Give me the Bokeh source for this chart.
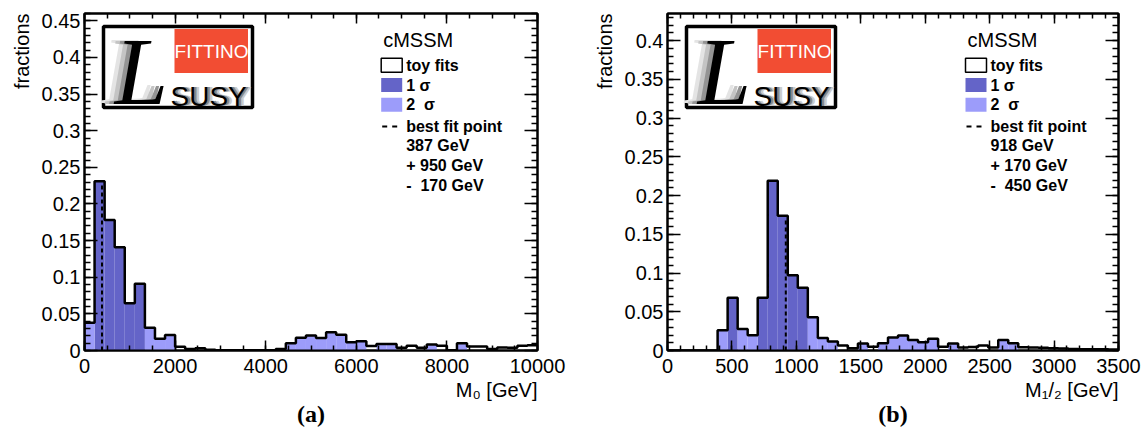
import numpy as np
from bokeh.plotting import figure
from bokeh.layouts import row
from bokeh.models import Range1d, LinearAxis, FixedTicker, Title, CustomJSTickFormatter
from bokeh.core.properties import value
from bokeh.embed import file_html
from bokeh.resources import INLINE

# ---------------- data ----------------
N_BINS = 45
M0_MAX = 10000
M12_MAX = 3500

# fraction of toy fits per bin (45 equal bins)
m0_fractions = [0.038, 0.231, 0.178, 0.141, 0.0645, 0.091, 0.031, 0.016, 0.021,
                0.005, 0.002, 0.003, 0.001, 0.0005, 0.0005, 0.0005, 0.0005, 0.0005,
                0.0005, 0.002, 0.010, 0.0173, 0.0205, 0.017, 0.025, 0.0214, 0.0114,
                0.0127, 0.006, 0.009, 0.0088, 0.0036, 0.0064, 0.0036, 0.0082, 0.0064,
                0.0005, 0.010, 0.0055, 0.0055, 0.002, 0.004, 0.0036, 0.0064, 0.0073]
# 0 = outside, 1 = 1 sigma region, 2 = 2 sigma region
m0_bands = [2, 1, 1, 1, 1, 1, 2, 2, 2,
            0, 0, 0, 0, 0, 0, 0, 0, 0,
            0, 0, 2, 2, 2, 2, 2, 2, 2,
            2, 0, 2, 2, 0, 0, 0, 2, 0,
            0, 2, 0, 0, 0, 0, 0, 0, 0]

m12_fractions = [0.0, 0.0, 0.0, 0.0, 0.0, 0.026, 0.068, 0.0276, 0.0198,
                 0.068, 0.219, 0.174, 0.097, 0.081, 0.043, 0.016, 0.0117, 0.0065,
                 0.003, 0.009, 0.0048, 0.0095, 0.0168, 0.0194, 0.0134, 0.0108, 0.0151,
                 0.0048, 0.009, 0.0039, 0.0045, 0.0065, 0.004, 0.0134, 0.0095, 0.0043,
                 0.004, 0.0035, 0.003, 0.0025, 0.002, 0.0017, 0.0017, 0.0015, 0.0012]
m12_bands = [0, 0, 0, 0, 0, 2, 1, 2, 2,
             1, 1, 1, 1, 1, 2, 2, 2, 0,
             0, 2, 0, 2, 2, 2, 2, 2, 2,
             0, 2, 0, 0, 0, 0, 2, 2, 0,
             0, 0, 0, 0, 0, 0, 0, 0, 0]

m0_best, m0_plus, m0_minus = 387, 950, 170
m12_best, m12_plus, m12_minus = 918, 170, 450

NB = "\u00a0"
legend_entries = ["toy fits", "1" + NB + "\u03c3", "2" + NB + NB + "\u03c3", "best fit point"]

# ---------------- style ----------------
FONT = "Liberation Sans"
SERIF = "Liberation Serif"
DARK = "#6464c8"
LIGHT = "#9c9cfa"
LOGO_RED = "#f24d33"
FH = 337


def ticks(start, stop, step):
    n = int(round((stop - start) / step))
    return [round(start + i * step, 6) for i in range(n + 1)]


FMT = CustomJSTickFormatter(code="return String(tick)")


def style_axis(ax, tick_len, labels=True, standoff=4):
    ax.axis_line_color = "black"
    ax.axis_line_width = 2
    ax.major_tick_in = tick_len
    ax.major_tick_out = 0
    ax.minor_tick_in = tick_len // 2
    ax.minor_tick_out = 0
    ax.major_tick_line_width = 1.5
    ax.minor_tick_line_width = 1.5
    ax.major_tick_line_color = "black"
    ax.minor_tick_line_color = "black"
    ax.formatter = FMT
    if labels:
        ax.major_label_text_font = FONT
        ax.major_label_text_font_size = "20px"
        ax.major_label_text_color = "black"
        ax.major_label_standoff = standoff
    else:
        ax.major_label_text_font_size = "0px"
        ax.major_label_text_color = None
        ax.major_label_standoff = 0


def build(fractions, bands, x_max, y_max, x_step, x_minor, best, plus, minus,
          xlabel, caption, fw, border_l, border_r, legend_dx):
    edges = np.linspace(0, x_max, N_BINS + 1)
    fr = np.array(fractions)
    p = figure(frame_width=fw, frame_height=FH, min_border_left=border_l,
               min_border_right=border_r, min_border_top=13, min_border_bottom=80,
               x_range=Range1d(0, x_max), y_range=Range1d(0, y_max),
               output_backend="svg", toolbar_location=None)
    p.grid.visible = False
    p.outline_line_color = "black"
    p.outline_line_width = 2

    def X(px):
        return px / fw * x_max

    def Y(py):
        return (FH - py) / FH * y_max

    # histogram fills
    lefts, rights = edges[:-1], edges[1:]
    for band, color in ((1, DARK), (2, LIGHT)):
        idx = [i for i, b in enumerate(bands) if b == band]
        p.quad(left=lefts[idx], right=rights[idx], bottom=0, top=fr[idx],
               fill_color=color, line_color=None)
    xs = np.concatenate([[edges[0]], edges])
    ys = np.concatenate([[0.0], fr, [fr[-1]]])
    p.step(xs, ys, mode="after", line_color="black", line_width=2.5)
    k = min(int(best / (x_max / N_BINS)), N_BINS - 1)
    p.segment(x0=[best], y0=[0], x1=[best], y1=[fr[k] * 0.98], line_dash="4 3",
              line_width=2, line_color="black")

    # axes (ticks on all four sides, pointing inwards)
    xt = FixedTicker(ticks=ticks(0, x_max, x_step), minor_ticks=ticks(0, x_max, x_minor))
    yt = FixedTicker(ticks=ticks(0, 0.45, 0.05), minor_ticks=ticks(0, 0.46, 0.01))
    p.xaxis[0].ticker = xt
    p.yaxis[0].ticker = yt
    style_axis(p.xaxis[0], 10, standoff=8)
    style_axis(p.yaxis[0], 13, standoff=4)
    top = LinearAxis(ticker=xt)
    style_axis(top, 10, labels=False)
    p.add_layout(top, "above")
    right = LinearAxis(ticker=yt)
    style_axis(right, 13, labels=False)
    p.add_layout(right, "right")

    # logo
    p.quad(left=X(19), right=X(168), top=Y(13), bottom=Y(94), fill_color="white",
           line_color="black", line_width=3.5)
    p.quad(left=X(90), right=X(163.5), top=Y(15.6), bottom=Y(59.5),
           fill_color=LOGO_RED, line_color=None)
    p.text(x=[X(127)], y=[Y(37.5)], text=["FITTINO"], text_align="center",
           text_baseline="middle", text_color="white",
           text_font=value(FONT), text_font_size="19px")
    for dx, dy, col in ((-13, 1, "#e4e4e4"), (-9, 0.5, "#c4c4c4"), (-4.5, 0, "#949494"), (0, 0, "black")):
        p.text(x=[X(57 + dx)], y=[Y(58 - dy)], text=["L"], text_font=value(SERIF),
               text_font_style="italic", text_font_size="96px", text_color=col,
               text_align="center", text_baseline="middle")
    for dx, col in ((5, "#cccccc"), (2.5, "#888888"), (0, "black")):
        p.text(x=[X(86 + dx)], y=[Y(83)], text=["SUSY"], text_font=value(FONT),
               text_font_size="28px", text_color=col, text_baseline="middle")

    # legend
    lx = legend_dx
    rows_y = [51.7, 71.5, 91.2, 113, 132, 152, 172]
    p.text(x=[X(lx + 2)], y=[Y(26.5)], text=["cMSSM"], text_font=value(FONT),
           text_font_size="20px", text_baseline="middle")
    p.quad(left=[X(lx)], right=[X(lx + 21)], top=[Y(rows_y[0] - 7)], bottom=[Y(rows_y[0] + 7)],
           fill_color="white", line_color="black", line_width=1.5)
    p.quad(left=[X(lx)], right=[X(lx + 21)], top=[Y(rows_y[1] - 7)], bottom=[Y(rows_y[1] + 7)],
           fill_color=DARK, line_color=None)
    p.quad(left=[X(lx)], right=[X(lx + 21)], top=[Y(rows_y[2] - 7)], bottom=[Y(rows_y[2] + 7)],
           fill_color=LIGHT, line_color=None)
    p.segment(x0=[X(lx + 1)], y0=[Y(rows_y[3])], x1=[X(lx + 20)], y1=[Y(rows_y[3])],
              line_dash="5 5", line_width=2, line_color="black")
    texts = legend_entries + [f"{best} GeV", f"+ {plus} GeV", "-" + NB + NB + f"{minus} GeV"]
    p.text(x=[X(lx + 25)] * len(texts), y=[Y(v) for v in rows_y], text=texts,
           text_font=value(FONT), text_font_style="bold", text_font_size="16px",
           text_baseline="middle")

    # axis titles and caption
    p.add_layout(Title(text="fractions", align="right", text_font=FONT, text_color="black",
                       text_font_size="20px", text_font_style="normal", standoff=12), "left")
    p.add_layout(Title(text=xlabel, align="right", text_font=FONT, text_color="black",
                       text_font_size="20px", text_font_style="normal", standoff=2), "below")
    p.add_layout(Title(text=caption, align="center", text_font=SERIF, text_color="black",
                       text_font_size="24px", text_font_style="bold", standoff=-5), "below")
    return p


p1 = build(m0_fractions, m0_bands, M0_MAX, 0.46, 2000, 500, m0_best, m0_plus, m0_minus,
           "M\u2080 [GeV]", "(a)", 453, 84, 38, 296.7)
p2 = build(m12_fractions, m12_bands, M12_MAX, 0.435, 500, 100, m12_best, m12_plus, m12_minus,
           "M\u2081/\u2082 [GeV]", "(b)", 451, 92, 28, 298)

layout = row(p1, p2)
open("out.html", "w").write(file_html(layout, INLINE))
